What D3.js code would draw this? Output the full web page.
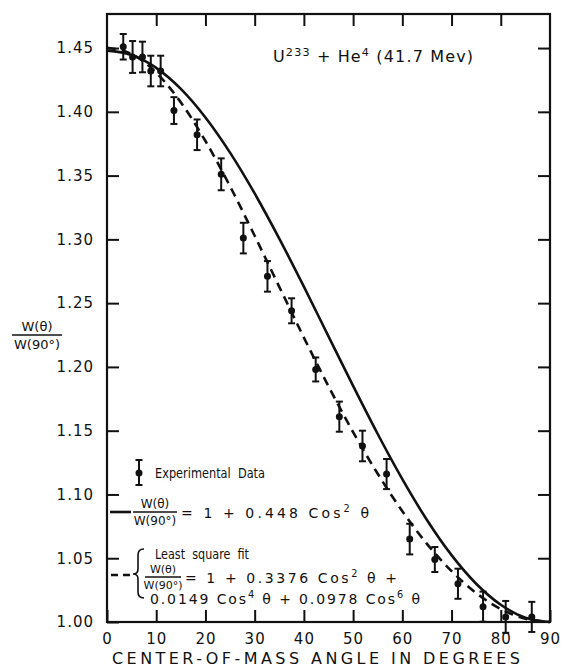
<!DOCTYPE html>
<html>
<head>
<meta charset="utf-8">
<script src="https://cdn.jsdelivr.net/npm/d3@7"></script>
<style>
body { margin: 0; background: #fff; }
text { font-family: "DejaVu Sans", sans-serif; fill: #111; }
.axis text { font-size: 15px; letter-spacing: 1px; }
.axis line, .axis path { stroke: #111; stroke-width: 2; }
</style>
</head>
<body>
<svg id="myGraph" width="564" height="668"></svg>
<script>
// measured points (angle in degrees, W(theta)/W(90), error)
var angles = [3.3, 5.2, 7.2, 8.9, 10.9, 13.6, 18.3, 23.2, 27.7, 32.6, 37.5, 42.4, 47.2, 51.9, 56.8, 61.5, 66.6, 71.3, 76.4, 81.0, 86.3];
var ratios = [1.451, 1.443, 1.443, 1.432, 1.432, 1.401, 1.382, 1.351, 1.301, 1.271, 1.244, 1.198, 1.161, 1.138, 1.116, 1.065, 1.049, 1.030, 1.012, 1.004, 1.004];
var errors = [0.010, 0.0125, 0.012, 0.012, 0.012, 0.0105, 0.012, 0.0125, 0.012, 0.012, 0.0098, 0.0094, 0.0118, 0.012, 0.0118, 0.012, 0.0098, 0.0118, 0.0118, 0.0125, 0.0118];

// curves read every 5 degrees
var curveAngles = [0, 5, 10, 15, 20, 25, 30, 35, 40, 45, 50, 55, 60, 65, 70, 75, 80, 85, 90];
var solidCurve = [1.4480, 1.4446, 1.4345, 1.4180, 1.3956, 1.3680, 1.3360, 1.3006, 1.2629, 1.2240, 1.1851, 1.1474, 1.1120, 1.0800, 1.0524, 1.0300, 1.0135, 1.0034, 1.0000];
var dashedCurve = [1.4503, 1.4453, 1.4307, 1.4074, 1.3771, 1.3416, 1.3028, 1.2628, 1.2230, 1.1848, 1.1489, 1.1162, 1.0869, 1.0613, 1.0399, 1.0227, 1.0102, 1.0026, 1.0000];

var xTicks = [0, 10, 20, 30, 40, 50, 60, 70, 80, 90];
var yTicks = [1.00, 1.05, 1.10, 1.15, 1.20, 1.25, 1.30, 1.35, 1.40, 1.45];

// plot box (window.top is reserved, so use own names)
var boxL = 107, boxR = 550, boxT = 14, boxB = 622;
var tickLen = 12;

var svg = d3.select("#myGraph");

var x = d3.scaleLinear().domain([0, 90]).range([boxL, boxR]);
var y = d3.scaleLinear().domain([1.0, 1.4767]).range([boxB, boxT]);

// frame
svg.append("rect")
  .attr("x", boxL).attr("y", boxT)
  .attr("width", boxR - boxL).attr("height", boxB - boxT)
  .attr("fill", "none").attr("stroke", "#111").attr("stroke-width", 2.2);

// axes, ticks pointing inward
svg.append("g").attr("class", "axis")
  .attr("transform", "translate(" + boxL + ",0)")
  .call(d3.axisLeft(y).tickValues(yTicks).tickFormat(d3.format(".2f"))
        .tickSizeInner(-tickLen).tickSizeOuter(0).tickPadding(13));

svg.append("g").attr("class", "axis")
  .attr("transform", "translate(" + boxR + ",0)")
  .call(d3.axisRight(y).tickValues(yTicks.slice(1)).tickFormat("")
        .tickSizeInner(-tickLen).tickSizeOuter(0));

svg.append("g").attr("class", "axis")
  .attr("transform", "translate(0," + boxB + ")")
  .call(d3.axisBottom(x).tickValues(xTicks).tickFormat(d3.format("d"))
        .tickSizeInner(-tickLen).tickSizeOuter(0).tickPadding(11));

svg.append("g").attr("class", "axis")
  .attr("transform", "translate(0," + boxT + ")")
  .call(d3.axisTop(x).tickValues(xTicks.slice(1, -1)).tickFormat("")
        .tickSizeInner(-tickLen).tickSizeOuter(0));

svg.selectAll(".axis .domain").remove();

// curves
var solidData = curveAngles.map(function(a, i){ return [a, solidCurve[i]]; });
var dashedData = curveAngles.map(function(a, i){ return [a, dashedCurve[i]]; });

var line = d3.line()
  .x(function(d){ return x(d[0]); })
  .y(function(d){ return y(d[1]); })
  .curve(d3.curveMonotoneX);

svg.append("path").datum(solidData)
  .attr("d", line).attr("fill", "none")
  .attr("stroke", "#111").attr("stroke-width", 2.6);

svg.append("path").datum(dashedData)
  .attr("d", line).attr("fill", "none")
  .attr("stroke", "#111").attr("stroke-width", 2.6)
  .attr("stroke-dasharray", "9,6");

// experimental points with error bars
var pts = angles.map(function(a, i){ return {a: a, v: ratios[i], e: errors[i]}; });
var cap = 3.5;

var pg = svg.append("g").selectAll("g").data(pts).enter().append("g");
pg.append("line")
  .attr("x1", function(d){ return x(d.a); }).attr("x2", function(d){ return x(d.a); })
  .attr("y1", function(d){ return y(d.v + d.e); }).attr("y2", function(d){ return y(d.v - d.e); })
  .attr("stroke", "#111").attr("stroke-width", 2);
pg.append("line")
  .attr("x1", function(d){ return x(d.a) - cap; }).attr("x2", function(d){ return x(d.a) + cap; })
  .attr("y1", function(d){ return y(d.v + d.e); }).attr("y2", function(d){ return y(d.v + d.e); })
  .attr("stroke", "#111").attr("stroke-width", 2);
pg.append("line")
  .attr("x1", function(d){ return x(d.a) - cap; }).attr("x2", function(d){ return x(d.a) + cap; })
  .attr("y1", function(d){ return y(d.v - d.e); }).attr("y2", function(d){ return y(d.v - d.e); })
  .attr("stroke", "#111").attr("stroke-width", 2);
pg.append("circle")
  .attr("cx", function(d){ return x(d.a); }).attr("cy", function(d){ return y(d.v); })
  .attr("r", 3.5).attr("fill", "#111");

// text with superscripts: parts = [[text, sup], ...]; width stretches it like the lettering
function richText(g, px, py, size, parts, width, squeeze) {
  var t = g.append("text").attr("x", px).attr("y", py)
    .style("font-size", size + "px")
    .attr("xml:space", "preserve");
  var up = false;
  parts.forEach(function(p){
    var s = t.append("tspan").text(p[0]);
    if (p[1] && !up) { s.attr("dy", -size * 0.4).style("font-size", (size * 0.7) + "px"); up = true; }
    else if (p[1]) { s.style("font-size", (size * 0.7) + "px"); }
    else if (up) { s.attr("dy", size * 0.4); up = false; }
  });
  if (width) {
    t.attr("textLength", width).attr("lengthAdjust", squeeze ? "spacingAndGlyphs" : "spacing");
  }
  return t;
}

// title
richText(svg, 273, 62, 16, [["U"], ["233", true], [" + He"], ["4", true], [" (41.7 Mev)"]], 200);

// axis titles
svg.append("text").attr("x", 112).attr("y", 664)
  .style("font-size", "16px")
  .attr("textLength", 408).attr("lengthAdjust", "spacing")
  .text("CENTER-OF-MASS  ANGLE  IN  DEGREES");

function fraction(g, cx, cy, w, size) {
  g.append("text").attr("x", cx).attr("y", cy - 4).attr("text-anchor", "middle")
    .style("font-size", size + "px").text("W(\u03B8)");
  g.append("line").attr("x1", cx - w / 2).attr("x2", cx + w / 2)
    .attr("y1", cy).attr("y2", cy).attr("stroke", "#111").attr("stroke-width", 1.3);
  g.append("text").attr("x", cx).attr("y", cy + size + 1).attr("text-anchor", "middle")
    .style("font-size", size + "px").text("W(90\u00B0)");
}
fraction(svg, 37, 335, 50, 13);

// legend
var lg = svg.append("g");
lg.append("line").attr("x1", 139).attr("x2", 139).attr("y1", 460).attr("y2", 485)
  .attr("stroke", "#111").attr("stroke-width", 2);
lg.append("line").attr("x1", 139 - cap).attr("x2", 139 + cap).attr("y1", 460).attr("y2", 460)
  .attr("stroke", "#111").attr("stroke-width", 2);
lg.append("line").attr("x1", 139 - cap).attr("x2", 139 + cap).attr("y1", 485).attr("y2", 485)
  .attr("stroke", "#111").attr("stroke-width", 2);
lg.append("circle").attr("cx", 139).attr("cy", 473).attr("r", 3.5).attr("fill", "#111");
richText(lg, 155, 478, 14, [["Experimental  Data"]], 110, true);

lg.append("line").attr("x1", 110).attr("x2", 131).attr("y1", 512).attr("y2", 512)
  .attr("stroke", "#111").attr("stroke-width", 2.6);
fraction(lg, 155, 512, 44, 12);
richText(lg, 181, 518, 14, [["= 1 + 0.448 Cos"], ["2", true], [" \u03B8"]], 188);

richText(lg, 155, 559, 14, [["Least  square  fit"]], 94, true);
lg.append("line").attr("x1", 111).attr("x2", 131).attr("y1", 575).attr("y2", 575)
  .attr("stroke", "#111").attr("stroke-width", 2.6).attr("stroke-dasharray", "7,5");
lg.append("path")
  .attr("d", "M144,549 Q138,549 138,555 L138,569 Q138,574 133,574 Q138,574 138,579 L138,592 Q138,598 144,598")
  .attr("fill", "none").attr("stroke", "#111").attr("stroke-width", 1.6);
fraction(lg, 163, 577, 36, 11);
richText(lg, 185, 583, 14, [["= 1 + 0.3376 Cos"], ["2", true], [" \u03B8 +"]], 212);
richText(lg, 150, 604, 14, [["0.0149 Cos"], ["4", true], [" \u03B8 + 0.0978 Cos"], ["6", true], [" \u03B8"]], 270);
</script>
</body>
</html>
